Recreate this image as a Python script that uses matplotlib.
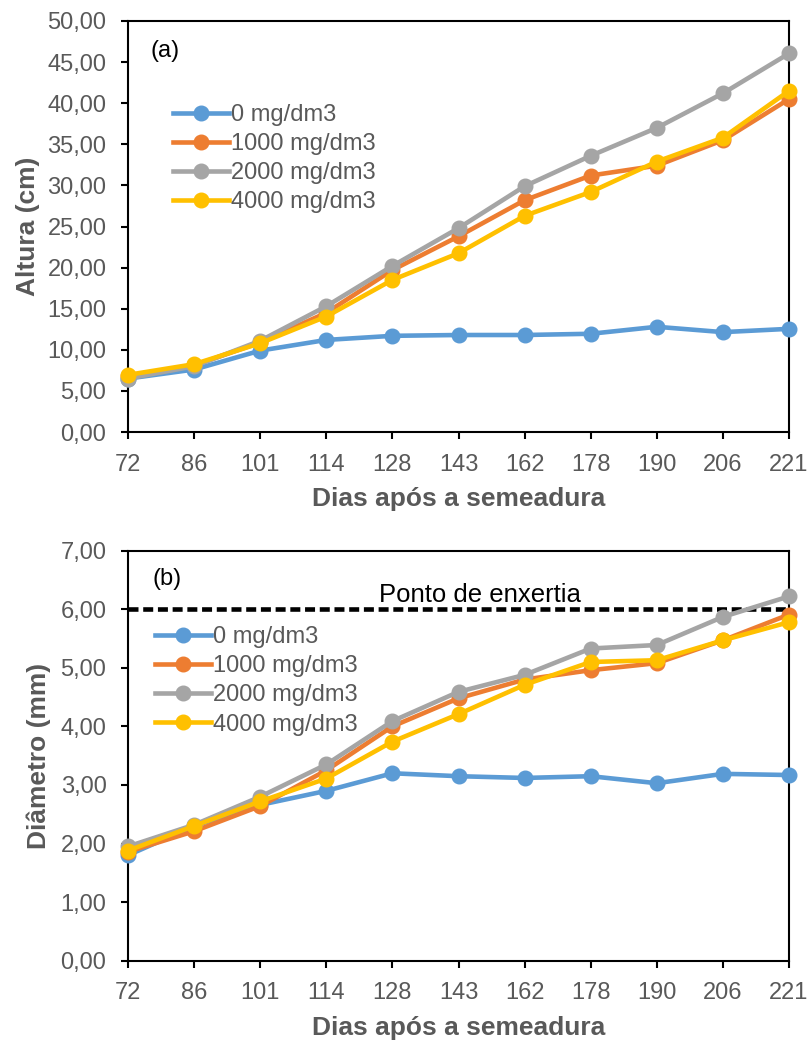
import numpy as np
import matplotlib.pyplot as plt

plt.rcParams['font.family'] = ['Liberation Sans', 'DejaVu Sans']

dias = ['72', '86', '101', '114', '128', '143', '162', '178', '190', '206', '221']
doses = ['0 mg/dm3', '1000 mg/dm3', '2000 mg/dm3', '4000 mg/dm3']
cores = ['#5B9BD5', '#ED7D31', '#A5A5A5', '#FFC000']

# altura (cm)
altura_0 = [6.5, 7.6, 9.9, 11.2, 11.7, 11.8, 11.8, 11.95, 12.8, 12.15, 12.55]
altura_1000 = [6.8, 8.1, 10.9, 14.5, 19.7, 23.8, 28.2, 31.2, 32.4, 35.5, 40.5]
altura_2000 = [6.5, 8.0, 11.1, 15.3, 20.2, 24.8, 29.9, 33.6, 37.0, 41.2, 46.05]
altura_4000 = [6.95, 8.25, 10.8, 14.05, 18.5, 21.75, 26.3, 29.2, 32.9, 35.8, 41.5]

# diametro (mm)
diam_0 = [1.8, 2.3, 2.66, 2.9, 3.2, 3.15, 3.12, 3.15, 3.03, 3.19, 3.17]
diam_1000 = [1.86, 2.21, 2.64, 3.25, 4.0, 4.48, 4.8, 4.96, 5.08, 5.47, 5.91]
diam_2000 = [1.95, 2.32, 2.8, 3.35, 4.09, 4.59, 4.88, 5.33, 5.39, 5.87, 6.22]
diam_4000 = [1.88, 2.3, 2.72, 3.11, 3.74, 4.21, 4.71, 5.1, 5.13, 5.47, 5.78]

ponto_enxertia = 6.0

cinza = '#595959'
W, H = 808, 1040
fig = plt.figure(figsize=(W / 100, H / 100), dpi=100)


def eixo(left, top, right, bottom):
    return fig.add_axes([left / W, 1 - bottom / H, (right - left) / W, (bottom - top) / H])


def desenha(ax, series, ymax, ystep, ylabel, ylab_x, letra, letra_pos, leg_pos):
    x = np.arange(len(dias))
    for vals, nome, cor in zip(series, doses, cores):
        ax.plot(x, vals, color=cor, lw=3.3, marker='o', ms=10.5, mec=cor,
                label=nome, clip_on=False, zorder=3)
    ax.set_xlim(0, len(dias) - 1)
    ax.set_ylim(0, ymax)
    ax.set_xticks(x)
    ax.set_xticklabels(dias)
    yt = np.arange(0, ymax + ystep / 2, ystep)
    ax.set_yticks(yt)
    ax.set_yticklabels([f'{v:.2f}'.replace('.', ',') for v in yt])
    ax.tick_params(direction='out', length=5, width=1.5, pad=10.5,
                   labelsize=17, labelcolor=cinza, color='black')
    for s in ax.spines.values():
        s.set_linewidth(1.5)
        s.set_color('black')
    ax.set_xlabel('Dias após a semeadura', fontsize=19, fontweight='bold', color=cinza)
    ax.xaxis.set_label_coords(0.5, -0.134)
    ax.set_ylabel(ylabel, fontsize=19, fontweight='bold', color=cinza, va='center')
    ax.yaxis.set_label_coords(ylab_x, 0.5)
    ax.text(letra_pos[0], letra_pos[1], letra, transform=ax.transAxes,
            fontsize=17, ha='left', va='center', color='black')
    ax.legend(loc='upper left', bbox_to_anchor=leg_pos, frameon=False,
              fontsize=17, handlelength=2.37, handletextpad=0.1,
              labelspacing=0.3, borderpad=0, borderaxespad=0,
              labelcolor=cinza, numpoints=1)


ax1 = eixo(128, 21, 789, 432)
desenha(ax1, [altura_0, altura_1000, altura_2000, altura_4000], 50, 5,
        'Altura (cm)', -0.152, '(a)', (0.0343, 0.927), (0.0676, 0.798))

ax2 = eixo(128, 550.7, 789, 960.7)
desenha(ax2, [diam_0, diam_1000, diam_2000, diam_4000], 7, 1,
        'Diâmetro (mm)', -0.135, '(b)', (0.0374, 0.931), (0.0408, 0.8156))
ax2.axhline(ponto_enxertia, color='black', lw=3.3, ls=(0, (2.18, 1.03)), zorder=2)
ax2.text(5.325, 6.13, 'Ponto de enxertia', fontsize=18.5, ha='center',
         va='baseline', color='black')

fig.savefig('out.png', dpi=100)
